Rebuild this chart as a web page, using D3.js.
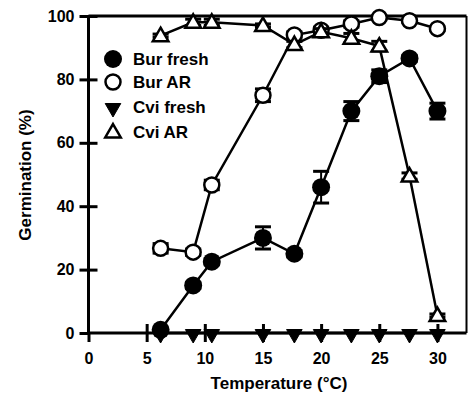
<!DOCTYPE html>
<html>
<head>
<meta charset="utf-8">
<script src="https://cdn.jsdelivr.net/npm/d3@7"></script>
<style>
  body { margin: 0; background: #fff; }
  text { font-family: "Liberation Sans", Arial, sans-serif; font-weight: bold; fill: #000; }
</style>
</head>
<body>
<svg></svg>
<script>
// temperatures (°C)
var temps = [6.2, 9, 10.6, 15, 17.7, 20, 22.6, 25, 27.6, 30];

var burFresh    = [1, 15, 22.5, 30, 25, 46, 70, 81, 86.6, 70];
var burFreshErr = [0, 1, 1, 3.5, 1, 5, 3, 2, 1, 2.5];
var burAR       = [26.7, 25.5, 46.7, 75, 94, 95.5, 97.5, 99.5, 98.5, 96];
var burARErr    = [1.5, 1, 1.5, 2, 1, 1, 1, 0.5, 0.5, 0.5];
var cviFresh    = [0, 0, 0, 0, 0, 0, 0, 0, 0, 0];
var cviFreshErr = [0, 0, 0, 0, 0, 0, 0, 0, 0, 0];
var cviAR       = [93.8, 98, 98, 97, 91, 95, 93, 90.5, 49.5, 5.5];
var cviARErr    = [0.5, 1, 1, 0.5, 1, 1, 1.5, 1.5, 1, 0.5];

var xTicks = [0, 5, 10, 15, 20, 25, 30];
var yTicks = [0, 20, 40, 60, 80, 100];

var seriesNames = ["Bur fresh", "Bur AR", "Cvi fresh", "Cvi AR"];

var width = 468;
var height = 398;

var svg = d3.select("svg")
  .attr("width", width)
  .attr("height", height);

var xScale = d3.scaleLinear()
  .domain([0, 32.5])
  .range([88.5, 466.5]);

var yScale = d3.scaleLinear()
  .domain([0, 100])
  .range([333, 16]);

// frame top + right
svg.append("line")
  .attr("x1", xScale(0)).attr("x2", xScale(32.5))
  .attr("y1", yScale(100)).attr("y2", yScale(100))
  .attr("stroke", "#000").attr("stroke-width", 3);
svg.append("line")
  .attr("x1", xScale(32.5)).attr("x2", xScale(32.5))
  .attr("y1", yScale(100)).attr("y2", yScale(0))
  .attr("stroke", "#000").attr("stroke-width", 2);

var xAxis = d3.axisBottom(xScale).tickValues(xTicks).tickSize(9).tickPadding(8).tickSizeOuter(0);
var yAxis = d3.axisLeft(yScale).tickValues(yTicks).tickSize(9).tickPadding(5).tickSizeOuter(0);

var gx = svg.append("g")
  .attr("transform", "translate(0," + yScale(0) + ")")
  .call(xAxis);
var gy = svg.append("g")
  .attr("transform", "translate(" + xScale(0) + ",0)")
  .call(yAxis);

[gx, gy].forEach(function(g){
  g.select(".domain").attr("stroke-width", 3);
  g.selectAll(".tick line").attr("stroke-width", 3);
  g.selectAll("text").style("font-size", "16px").attr("font-family", null);
});
// ticks cross the axis
gx.selectAll(".tick line").attr("y1", function(d){ return d === 0 ? 0 : -9; });
gy.selectAll(".tick line").attr("x1", function(d){ return d === 0 ? 0 : 9; });
gx.selectAll(".tick text").attr("y", 20).attr("dy", "0.71em");
gx.select(".domain").attr("d", "M" + xScale(0) + ",0H" + xScale(32.5));
gy.select(".domain").attr("d", "M0," + yScale(0) + "V" + yScale(100));

// axis titles
svg.append("text")
  .attr("x", 279).attr("y", 389)
  .attr("text-anchor", "middle")
  .style("font-size", "17px")
  .text("Temperature (°C)");

svg.append("text")
  .attr("transform", "translate(31,175) rotate(-90)")
  .attr("text-anchor", "middle")
  .style("font-size", "17px")
  .text("Germination (%)");

var line = d3.line()
  .x(function(d){ return xScale(d.t); })
  .y(function(d){ return yScale(d.v); });

var triUp = d3.symbol().type(d3.symbolTriangle).size(105);

function drawMarker(g, kind, x, y){
  if (kind === 0) {
    g.append("circle").attr("cx", x).attr("cy", y).attr("r", 9).attr("fill", "#000");
  } else if (kind === 1) {
    g.append("circle").attr("cx", x).attr("cy", y).attr("r", 7.5)
      .attr("fill", "#fff").attr("stroke", "#000").attr("stroke-width", 2.5);
  } else if (kind === 2) {
    g.append("path").attr("d", triUp())
      .attr("transform", "translate(" + x + "," + (y + 1) + ") rotate(180)")
      .attr("fill", "#000").attr("stroke", "#000").attr("stroke-width", 1);
  } else {
    g.append("path").attr("d", triUp())
      .attr("transform", "translate(" + x + "," + (y + 1) + ")")
      .attr("fill", "#fff").attr("stroke", "#000").attr("stroke-width", 2.5);
  }
}

var allSeries = [
  { vals: burFresh, err: burFreshErr },
  { vals: burAR, err: burARErr },
  { vals: cviFresh, err: cviFreshErr },
  { vals: cviAR, err: cviARErr }
];

allSeries.forEach(function(s, k){
  var pts = temps.map(function(t, i){ return { t: t, v: s.vals[i], e: s.err[i] }; });
  var g = svg.append("g");
  g.append("path")
    .datum(pts)
    .attr("d", line)
    .attr("fill", "none")
    .attr("stroke", "#000")
    .attr("stroke-width", 2.5);
  pts.forEach(function(p){
    if (p.e > 0) {
      var x = xScale(p.t);
      var y1 = yScale(p.v + p.e), y2 = yScale(p.v - p.e);
      g.append("line").attr("x1", x).attr("x2", x).attr("y1", y1).attr("y2", y2)
        .attr("stroke", "#000").attr("stroke-width", 2);
      [y1, y2].forEach(function(yy){
        g.append("line").attr("x1", x - 8).attr("x2", x + 8).attr("y1", yy).attr("y2", yy)
          .attr("stroke", "#000").attr("stroke-width", 3);
      });
    }
    drawMarker(g, k, xScale(p.t), yScale(p.v));
  });
});

// legend
var legY = [59, 82, 107, 132];
var leg = svg.append("g");
seriesNames.forEach(function(name, k){
  drawMarker(leg, k, 113, legY[k]);
  leg.append("text")
    .attr("x", 133).attr("y", legY[k])
    .attr("dy", "0.36em")
    .style("font-size", "17px")
    .text(name);
});
</script>
</body>
</html>
